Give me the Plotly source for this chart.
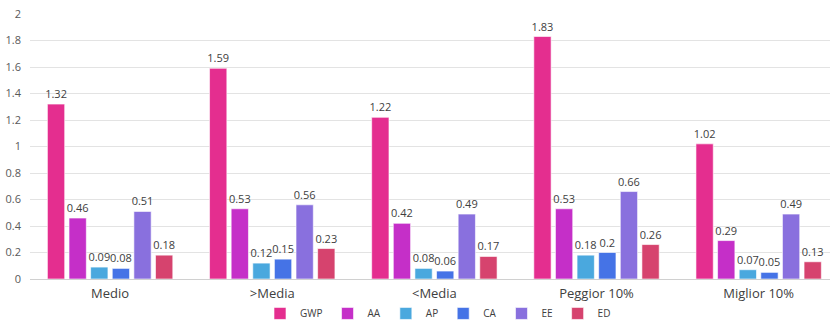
import plotly.graph_objects as go

categories = ["Medio", ">Media", "<Media", "Peggior 10%", "Miglior 10%"]
series_names = ["GWP", "AA", "AP", "CA", "EE", "ED"]
GWP = [1.32, 1.59, 1.22, 1.83, 1.02]
AA = [0.46, 0.53, 0.42, 0.53, 0.29]
AP = [0.09, 0.12, 0.08, 0.18, 0.07]
CA = [0.08, 0.15, 0.06, 0.20, 0.05]
EE = [0.51, 0.56, 0.49, 0.66, 0.49]
ED = [0.18, 0.23, 0.17, 0.26, 0.13]
series_values = [GWP, AA, AP, CA, EE, ED]
colors = ["#E42E8F", "#C52FC8", "#4AA8DE", "#4573E6", "#8970DE", "#D6436E"]
y_ticks = [0, 0.2, 0.4, 0.6, 0.8, 1, 1.2, 1.4, 1.6, 1.8, 2]

fig = go.Figure()
for name, vals, col in zip(series_names, series_values, colors):
    fig.add_trace(go.Bar(
        name=name, x=list(range(len(categories))), y=vals,
        marker=dict(color=col, line=dict(color="rgba(255,255,255,0.6)", width=1)),
        text=[f"{v:g}" for v in vals], textposition="outside",
        textfont=dict(size=11, color="#404040", family="Open Sans"),
        cliponaxis=False,
    ))

fig.update_layout(
    width=830, height=323,
    margin=dict(l=30, r=0, t=14, b=44, autoexpand=False),
    paper_bgcolor="white", plot_bgcolor="white",
    barmode="group", bargap=0.2, bargroupgap=0.2,
    font=dict(family="Open Sans", color="#404040"),
    showlegend=True,
    legend=dict(orientation="h", x=0.51, xanchor="center", y=-0.13, yanchor="middle",
                font=dict(size=10, color="#404040"), itemwidth=30,
                traceorder="normal", tracegroupgap=0, bgcolor="rgba(0,0,0,0)"),
    xaxis=dict(range=[-0.494, 4.44], tickvals=list(range(len(categories))),
               ticktext=categories, showgrid=False, zeroline=False,
               showline=False, ticks="", ticklabelstandoff=5,
               tickfont=dict(size=13, color="#404040")),
    yaxis=dict(range=[0, 2], tickvals=y_ticks, ticktext=[f"{t:g}" for t in y_ticks],
               showgrid=True, gridcolor="#E3E3E3", gridwidth=1,
               zeroline=True, zerolinecolor="#D0D0D0", zerolinewidth=1,
               ticks="", ticklabelstandoff=8,
               tickfont=dict(size=11, color="#595959")),
    uniformtext=dict(minsize=11, mode="show"),
)

fig.write_html("out.html")
